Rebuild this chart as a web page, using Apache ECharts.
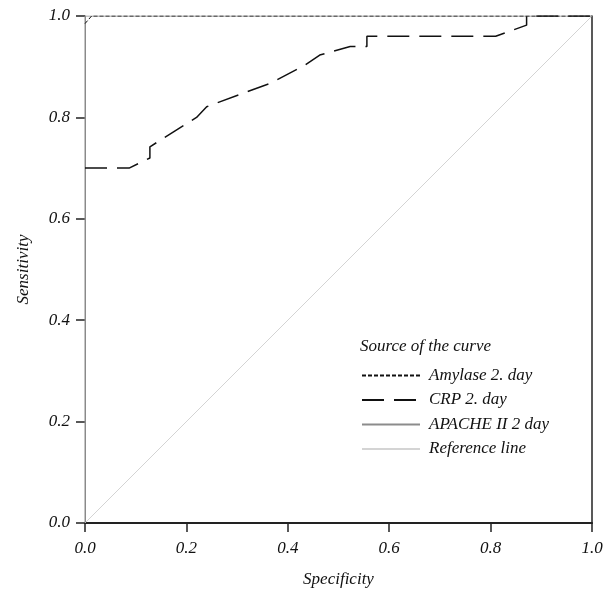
<!DOCTYPE html>
<html>
<head>
<meta charset="utf-8">
<script src="https://cdn.jsdelivr.net/npm/echarts@6/dist/echarts.min.js"></script>
<style>
html, body { margin: 0; padding: 0; background: #fff; }
#main { width: 611px; height: 592px; }
</style>
</head>
<body>
<div id="main"></div>
<script>
// ROC curves
var ticks = [0.0, 0.2, 0.4, 0.6, 0.8, 1.0]

var amylaseX = [0, 0.013, 1.0]
var amylaseY = [0.985, 1.0, 1.0]

var crpX = [0, 0.087, 0.128, 0.128, 0.22, 0.24, 0.34, 0.365, 0.434, 0.463, 0.523, 0.556, 0.556, 0.81, 0.871, 0.871, 1.0]
var crpY = [0.70, 0.70, 0.72, 0.742, 0.80, 0.821, 0.858, 0.867, 0.903, 0.923, 0.94, 0.94, 0.96, 0.96, 0.982, 1.0, 1.0]

var apacheX = [0, 0, 1]
var apacheY = [0, 1, 1]

var refX = [0, 1]
var refY = [0, 1]

function pairs(xs, ys) {
    var out = []
    for (var i = 0; i < xs.length; i++) {
        out.push([xs[i], ys[i]])
    }
    return out
}

var font = "'Liberation Serif', serif"

var option = {
    animation: false,
    title: {
        text: 'Source of the curve',
        left: 360,
        top: 338,
        padding: 0,
        textStyle: {
            fontFamily: font,
            fontStyle: 'italic',
            fontWeight: 'normal',
            fontSize: 17,
            color: '#111'
        }
    },
    legend: {
        orient: 'vertical',
        left: 361,
        top: 367,
        padding: 0,
        itemWidth: 58,
        itemHeight: 14,
        itemGap: 7.5,
        itemStyle: { opacity: 0 },
        data: ['Amylase 2. day', 'CRP 2. day', 'APACHE II 2 day', 'Reference line'],
        textStyle: {
            fontFamily: font,
            fontStyle: 'italic',
            fontSize: 17,
            lineHeight: 16,
            color: '#111',
            padding: [0, 0, 0, 4]
        }
    },
    grid: {
        left: 85,
        right: 19,
        top: 16,
        bottom: 69,
        outerBoundsMode: 'none'
    },
    xAxis: {
        type: 'value',
        min: 0,
        max: 1,
        interval: 0.2,
        name: 'Specificity',
        nameLocation: 'middle',
        nameGap: 48,
        nameTextStyle: { fontFamily: font, fontStyle: 'italic', fontSize: 17, color: '#111' },
        axisLine: { onZero: false, lineStyle: { color: '#222', width: 2 } },
        axisTick: { length: 9, lineStyle: { color: '#222', width: 1.5 } },
        axisLabel: {
            margin: 17,
            fontFamily: font, fontStyle: 'italic', fontSize: 17, color: '#111',
            formatter: function (v) { return v.toFixed(1) }
        },
        splitLine: { show: false }
    },
    yAxis: [
        {
            type: 'value',
            min: 0,
            max: 1,
            interval: 0.2,
            name: 'Sensitivity',
            nameLocation: 'middle',
            nameGap: 53,
            nameTextStyle: { fontFamily: font, fontStyle: 'italic', fontSize: 17, color: '#111' },
            axisLine: { show: true, onZero: false, lineStyle: { color: '#888', width: 1 } },
            axisTick: { show: true, length: 9, lineStyle: { color: '#222', width: 1.5 } },
            axisLabel: {
                margin: 15,
                fontFamily: font, fontStyle: 'italic', fontSize: 17, color: '#111',
                formatter: function (v) { return v.toFixed(1) }
            },
            splitLine: { show: false }
        },
        {
            type: 'value',
            min: 0,
            max: 1,
            position: 'right',
            axisLine: { show: true, onZero: false, lineStyle: { color: '#222', width: 1.5 } },
            axisTick: { show: false },
            axisLabel: { show: false },
            splitLine: { show: false }
        }
    ],
    series: [
        {
            name: 'Reference line',
            type: 'line',
            symbol: 'none',
            data: pairs(refX, refY),
            lineStyle: { color: '#d4d4d4', width: 1 },
            itemStyle: { color: '#d4d4d4' },
            z: 1
        },
        {
            name: 'APACHE II 2 day',
            type: 'line',
            symbol: 'none',
            data: pairs(apacheX, apacheY),
            lineStyle: { color: '#8c8c8c', width: 1 },
            itemStyle: { color: '#8c8c8c' },
            z: 2
        },
        {
            name: 'CRP 2. day',
            type: 'line',
            symbol: 'none',
            data: pairs(crpX, crpY),
            lineStyle: { color: '#111', width: 1.5, type: [22, 10] },
            itemStyle: { color: '#111' },
            z: 3
        },
        {
            name: 'Amylase 2. day',
            type: 'line',
            symbol: 'none',
            data: pairs(amylaseX, amylaseY),
            lineStyle: { color: '#111', width: 1, type: [4, 2] },
            itemStyle: { color: '#111' },
            z: 4
        }
    ]
}

var myChart = echarts.init(document.getElementById('main'))
myChart.setOption(option, true)
</script>
</body>
</html>
